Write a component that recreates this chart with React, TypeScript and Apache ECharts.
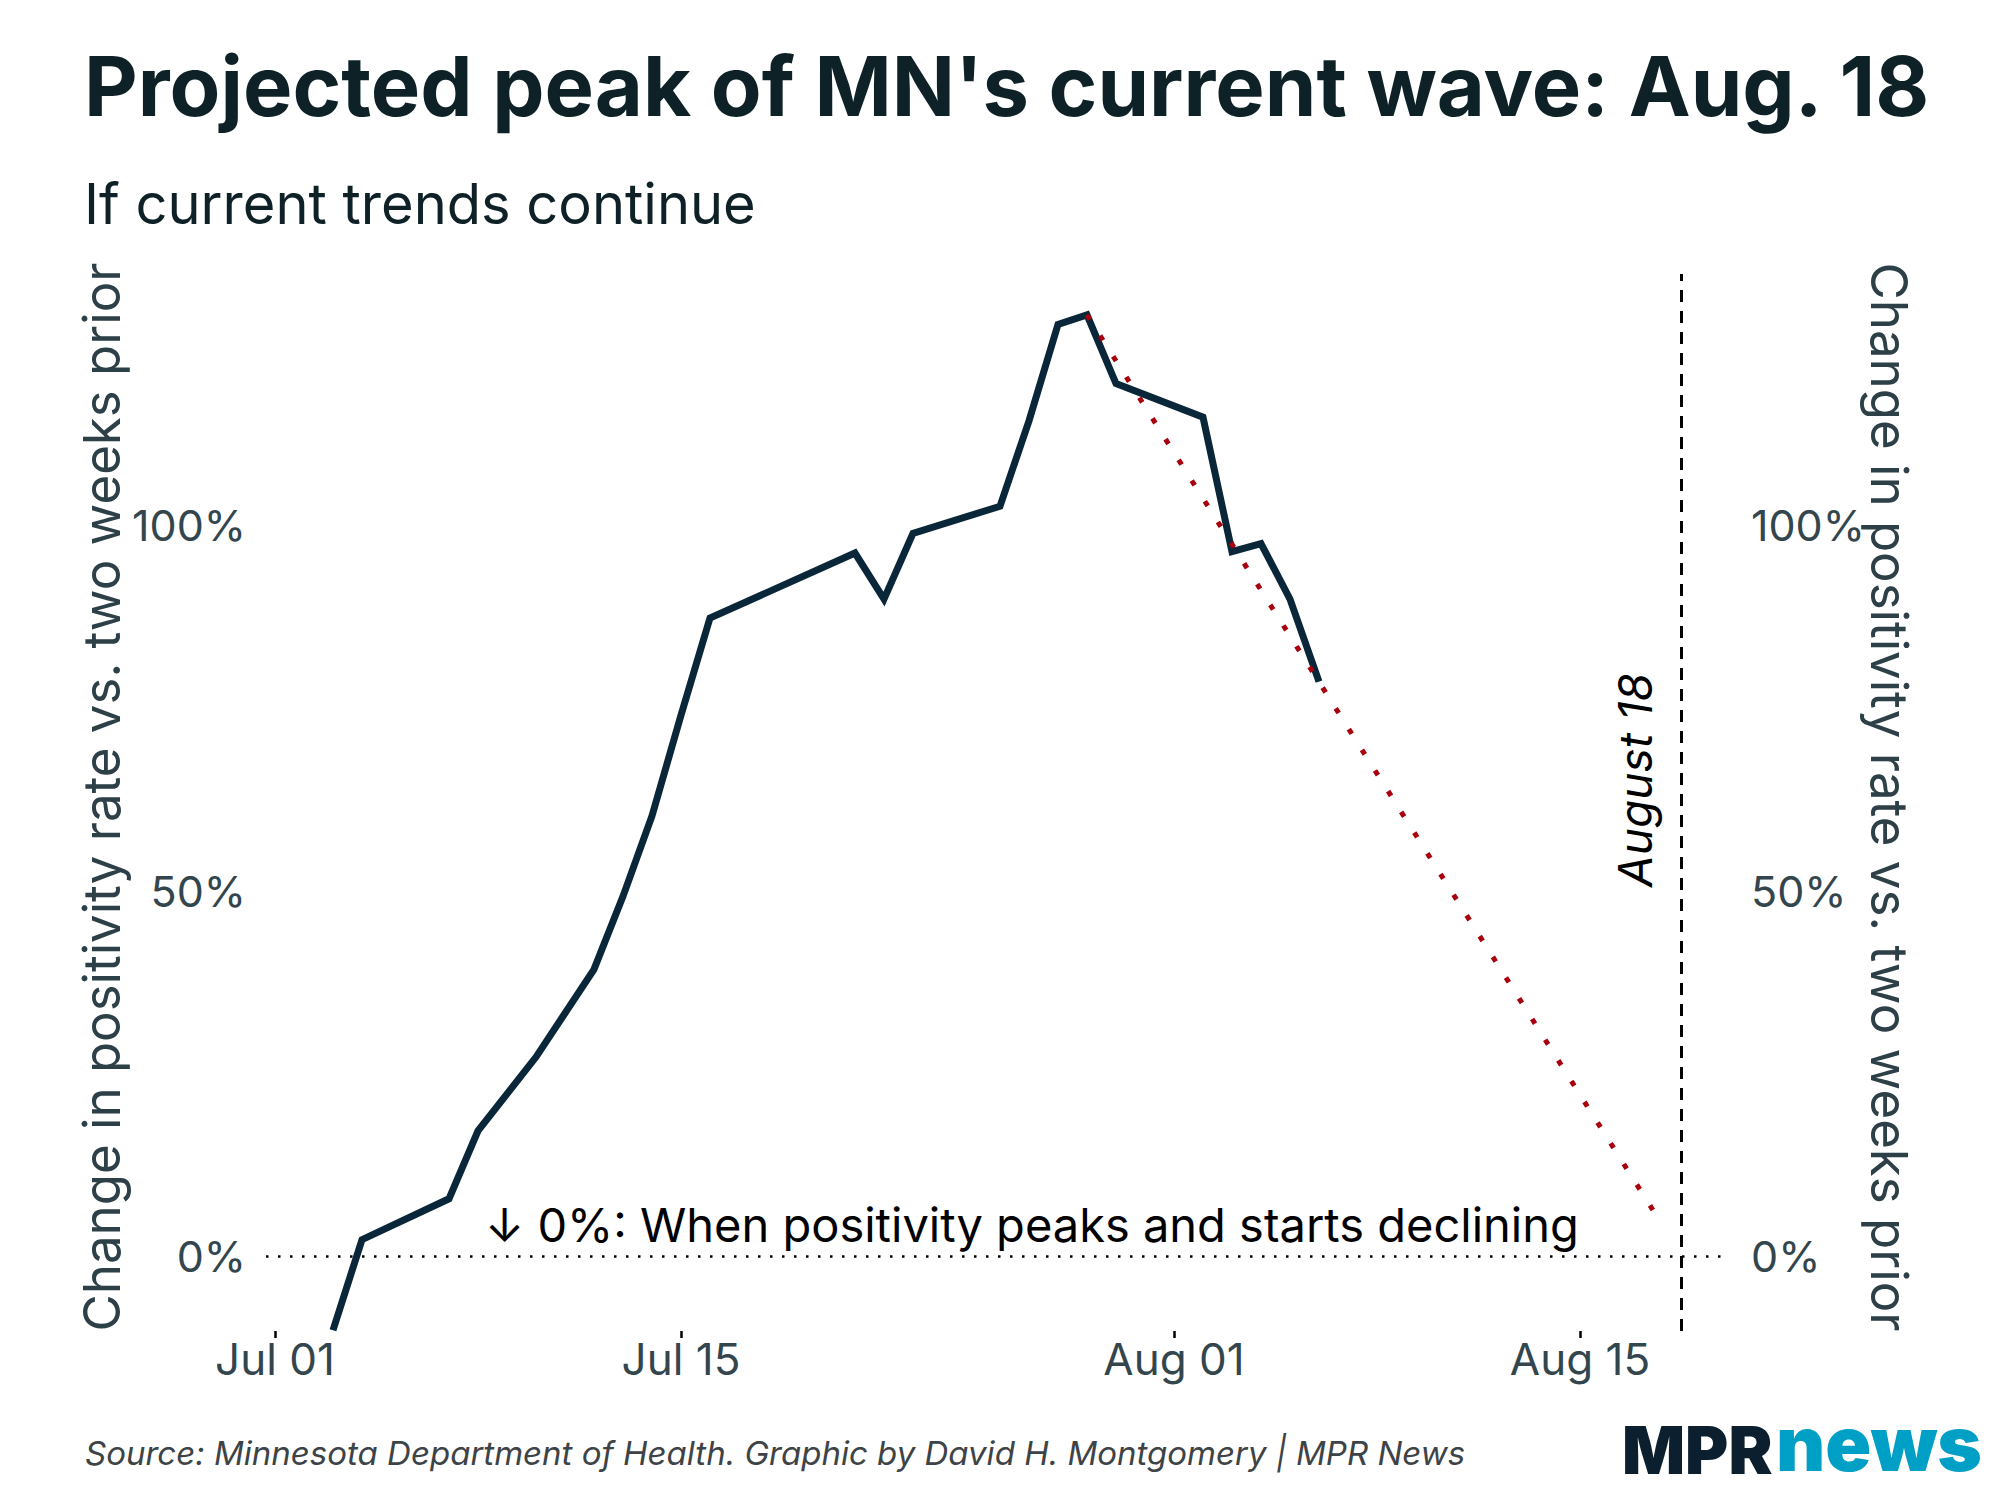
import React, { useEffect, useRef } from "react";
import * as echarts from "echarts";

// ---------- data ----------
const observedDates = [
  "2021-07-03", "2021-07-04", "2021-07-07", "2021-07-08", "2021-07-10",
  "2021-07-12", "2021-07-13", "2021-07-14", "2021-07-15", "2021-07-16",
  "2021-07-21", "2021-07-22", "2021-07-23", "2021-07-26", "2021-07-27",
  "2021-07-28", "2021-07-29", "2021-07-30", "2021-08-02", "2021-08-03",
  "2021-08-04", "2021-08-05", "2021-08-06",
];
const observedValues = [
  -10.2, 2.2, 7.8, 17.1, 27.2,
  39.2, 49.2, 60.2, 74.0, 87.3,
  96.2, 89.9, 98.9, 102.6, 114.3,
  127.5, 128.8, 119.4, 114.8, 96.4,
  97.5, 89.9, 78.6,
];
const projectionDates = ["2021-07-29T00:00:00Z", "2021-08-17T18:40:00Z"];
const projectionValues = [128.8, 4.6];
const peakDate = "2021-08-18T12:00:00Z";

const xTickDates = ["2021-07-01", "2021-07-15", "2021-08-01", "2021-08-15"];
const xTickLabels = ["Jul 01", "Jul 15", "Aug 01", "Aug 15"];
const yTickValues = [0, 50, 100];
const yTickLabels = ["0%", "50%", "100%"];

const TITLE = "Projected peak of MN's current wave: Aug. 18";
const SUBTITLE = "If current trends continue";
const Y_TITLE = "Change in positivity rate vs. two weeks prior";
const ANNOTATION = "\u2193 0%: When positivity peaks and starts declining";
const PEAK_LABEL = "August 18";
const SOURCE = "Source: Minnesota Department of Health. Graphic by David H. Montgomery | MPR News";

// ---------- helpers ----------
const t = (s: string) => Date.parse(s);
const FONT = 'Inter, "Noto Sans", "DejaVu Sans", sans-serif';
const xTickTimes = xTickDates.map(t);

export default function App() {
  const ref = useRef<HTMLDivElement>(null);

  useEffect(() => {
    if (!ref.current) return;
    const chart = echarts.init(ref.current, null, { renderer: "svg" });

    const observed = observedDates.map((d, i) => [t(d), observedValues[i]]);
    const projection = projectionDates.map((d, i) => [t(d), projectionValues[i]]);

    const yAxisBase = (position: "left" | "right", margin: number) => ({
      type: "value" as const,
      position,
      min: -10.3,
      max: 134.4,
      splitLine: { show: false },
      axisLine: { show: false },
      axisTick: { show: false },
      axisLabel: {
        customValues: yTickValues,
        formatter: (v: number) => {
          const i = yTickValues.indexOf(v);
          return i >= 0 ? yTickLabels[i] : "";
        },
        color: "#33464d",
        fontFamily: FONT,
        fontSize: 43,
        margin,
      },
    });

    const option: any = {
      animation: false,
      backgroundColor: "#ffffff",
      grid: { left: 266, right: 273, top: 274, bottom: 169, containLabel: false },
      xAxis: {
        type: "value",
        min: t("2021-06-30T16:34:00Z"),
        max: t("2021-08-20T01:40:00Z"),
        splitLine: { show: false },
        axisLine: { show: false, onZero: false },
        axisTick: {
          show: true,
          customValues: xTickTimes,
          length: 7,
          lineStyle: { color: "#000000", width: 2.5 },
        },
        axisLabel: {
          customValues: xTickTimes,
          formatter: (v: number) => {
            const i = xTickTimes.indexOf(v);
            return i >= 0 ? xTickLabels[i] : "";
          },
          color: "#33464d",
          fontFamily: FONT,
          fontSize: 44,
          margin: 6,
          hideOverlap: false,
        },
      },
      yAxis: [yAxisBase("left", 20), yAxisBase("right", 24)],
      series: [
        {
          name: "Observed",
          type: "line",
          data: observed,
          showSymbol: false,
          symbol: "none",
          z: 3,
          lineStyle: { color: "#0a2639", width: 7, cap: "butt", join: "miter" },
          markLine: {
            silent: true,
            symbol: "none",
            label: { show: false },
            data: [
              {
                yAxis: 0,
                lineStyle: { color: "#000000", width: 2.5, type: [2.5, 9.5] },
              },
              {
                xAxis: t(peakDate),
                lineStyle: { color: "#000000", width: 3, type: [12, 9] },
              },
            ],
          },
        },
        {
          name: "Projection",
          type: "line",
          data: projection,
          showSymbol: false,
          symbol: "none",
          z: 4,
          lineStyle: { color: "#a8000c", width: 5, type: [5.5, 19], cap: "butt" },
        },
      ],
      graphic: [
        {
          type: "text", x: 84, y: 86,
          style: { text: TITLE, fontFamily: FONT, fontSize: 83, fontWeight: 700, fill: "#0d2126", align: "left", verticalAlign: "middle" },
        },
        {
          type: "text", x: 84, y: 204,
          style: { text: SUBTITLE, fontFamily: FONT, fontSize: 56, fontWeight: 400, fill: "#0d2126", align: "left", verticalAlign: "middle" },
        },
        {
          type: "text", x: 101, y: 797, rotation: Math.PI / 2,
          style: { text: Y_TITLE, fontFamily: FONT, fontSize: 51, fill: "#2d4047", align: "center", verticalAlign: "middle" },
        },
        {
          type: "text", x: 1889, y: 797, rotation: -Math.PI / 2,
          style: { text: Y_TITLE, fontFamily: FONT, fontSize: 51, fill: "#2d4047", align: "center", verticalAlign: "middle" },
        },
        {
          type: "text", x: 485, y: 1224,
          style: { text: ANNOTATION, fontFamily: FONT, fontSize: 47, fill: "#000000", align: "left", verticalAlign: "middle" },
        },
        {
          type: "text", x: 1635, y: 780, rotation: Math.PI / 2,
          style: { text: PEAK_LABEL, fontFamily: FONT, fontSize: 46, fontStyle: "italic", fill: "#000000", align: "center", verticalAlign: "middle" },
        },
        {
          type: "text", x: 85, y: 1453,
          style: { text: SOURCE, fontFamily: FONT, fontSize: 33, fontStyle: "italic", fill: "#3d4346", align: "left", verticalAlign: "middle" },
        },
        {
          type: "text", x: 1622, y: 1450,
          style: { text: "MPR", fontFamily: FONT, fontSize: 66, fontWeight: 900, fill: "#0b1f2e", align: "left", verticalAlign: "middle" },
        },
        {
          type: "text", x: 1776, y: 1443,
          style: { text: "news", fontFamily: FONT, fontSize: 76, fontWeight: 900, fill: "#009fc5", align: "left", verticalAlign: "middle" },
        },
      ],
    };

    chart.setOption(option);
    return () => chart.dispose();
  }, []);

  return (
    <div
      ref={ref}
      style={{ position: "fixed", left: 0, top: 0, width: 2000, height: 1500, background: "#ffffff" }}
    />
  );
}
